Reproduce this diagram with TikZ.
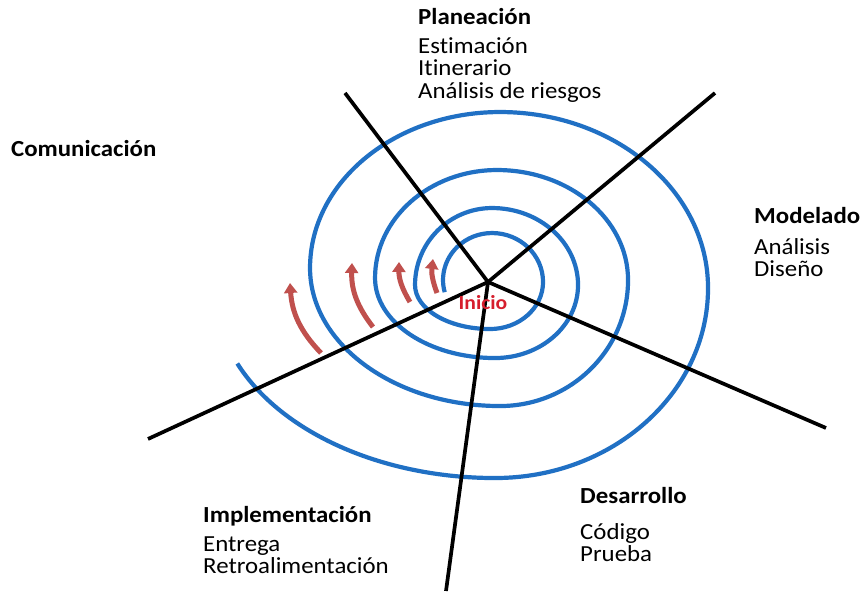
\documentclass[tikz,border=0pt]{standalone}
\usepackage{fontspec}
\setmainfont{Carlito}[FakeStretch=1.08,Ligatures=NoCommon]
\usetikzlibrary{arrows.meta}
\definecolor{spiralblue}{RGB}{32,112,196}
\definecolor{arrowred}{RGB}{192,80,77}
\definecolor{startred}{RGB}{214,30,45}
\begin{document}
\begin{tikzpicture}[x=1pt,y=1pt,
  spiral/.style={draw=spiralblue,line width=4.2pt},
  spoke/.style={draw=black,line width=3.7pt},
  cyclearrow/.style={draw=arrowred,line width=5pt,-{Triangle[width=13pt,length=10pt]}},
  hdr/.style={font=\bfseries\fontsize{23}{25}\selectfont,anchor=base west,inner sep=0pt},
  itm/.style={font=\fontsize{23}{25}\selectfont,anchor=base west,inner sep=0pt},
  startlbl/.style={font=\bfseries\fontsize{20}{22}\selectfont,text=startred,anchor=base,inner sep=0pt}]
\useasboundingbox (0,0) rectangle (864,594);
\fill[white] (0,0) rectangle (864,594);
% spiral
\draw[spiral] (444.7,301.8)
  arc[start angle=195,end angle=90,x radius=49,y radius=47]
  arc[start angle=90,end angle=0,x radius=51,y radius=49]
  arc[start angle=0,end angle=-90,x radius=53,y radius=47]
  arc[start angle=-90,end angle=-180,x radius=75,y radius=44]
  arc[start angle=180,end angle=90,x radius=77,y radius=77]
  arc[start angle=90,end angle=0,x radius=86,y radius=77]
  arc[start angle=0,end angle=-90,x radius=83,y radius=73]
  arc[start angle=-90,end angle=-180,x radius=120,y radius=80]
  arc[start angle=180,end angle=90,x radius=122,y radius=108]
  arc[start angle=90,end angle=0,x radius=131,y radius=110]
  arc[start angle=0,end angle=-90,x radius=128,y radius=126]
  arc[start angle=-90,end angle=-180,x radius=190,y radius=138]
  arc[start angle=180,end angle=90,x radius=190,y radius=156]
  arc[start angle=90,end angle=0,x radius=208,y radius=176]
  arc[start angle=0,end angle=-90,x radius=213,y radius=190]
  arc[start angle=-90,end angle=-157,x radius=280,y radius=188];
% spokes
\coordinate (c) at (488,312);
\coordinate (ul) at (345,501);
\coordinate (ur) at (715,501);
\coordinate (rl) at (826,166);
\coordinate (bt) at (446,3);
\coordinate (ll) at (148,155);
\draw[spoke] (c) -- (ul);
\draw[spoke] (c) -- (ur);
\draw[spoke] (c) -- (rl);
\draw[spoke] (c) -- (bt);
\draw[spoke] (c) -- (ll);
% red arrows
\coordinate (a1s) at (321,241); \coordinate (a1e) at (290,311);
\coordinate (a2s) at (373,267); \coordinate (a2e) at (352,331);
\coordinate (a3s) at (410,292); \coordinate (a3e) at (399,332);
\coordinate (a4s) at (437,301); \coordinate (a4e) at (433,335);
\draw[cyclearrow] (a1s) to[bend left=20] (a1e);
\draw[cyclearrow] (a2s) to[bend left=20] (a2e);
\draw[cyclearrow] (a3s) to[bend left=16] (a3e);
\draw[cyclearrow] (a4s) to[bend left=14] (a4e);
% labels
\node[startlbl] (ini) at (483,284) {Inicio};
\node[hdr] (pl) at (418,569) {Planeación};
\node[itm] (pl1) at (418,540.5) {Estimación};
\node[itm] (pl2) at (418,518) {Itinerario};
\node[itm] (pl3) at (418,495.5) {Análisis de riesgos};
\node[hdr] (co) at (11,437) {Comunicación};
\node[hdr] (mo) at (754,370) {Modelado};
\node[itm] (mo1) at (754,339) {Análisis};
\node[itm] (mo2) at (754,317) {Diseño};
\node[hdr] (de) at (580,90) {Desarrollo};
\node[itm] (de1) at (580,54) {Código};
\node[itm] (de2) at (580,32) {Prueba};
\node[hdr] (im) at (203,71) {Implementación};
\node[itm] (im1) at (203,42) {Entrega};
\node[itm] (im2) at (203,20) {Retroalimentación};
\end{tikzpicture}
\end{document}
